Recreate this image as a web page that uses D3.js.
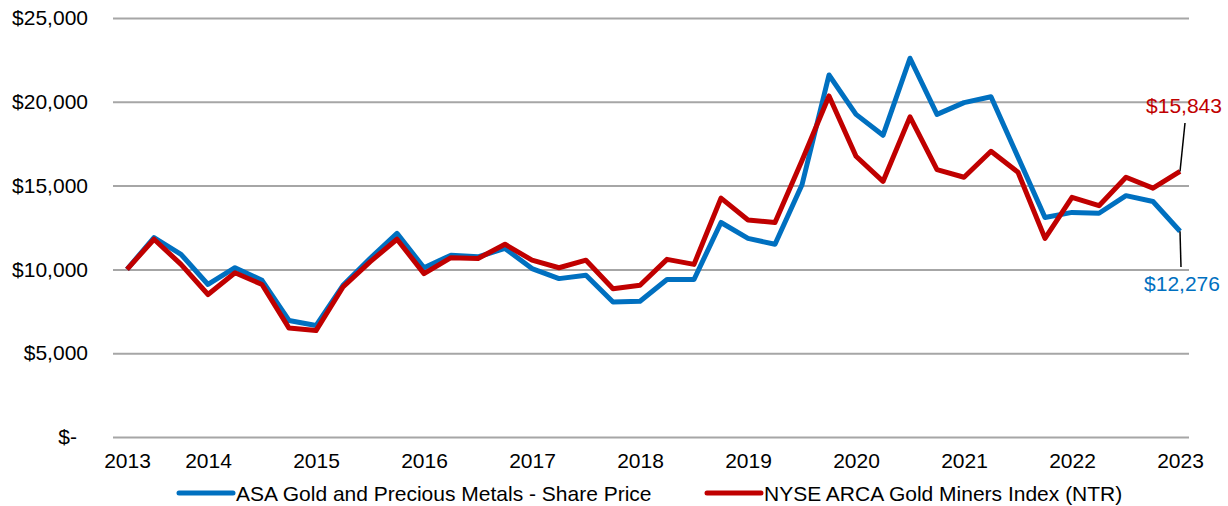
<!DOCTYPE html>
<html>
<head>
<meta charset="utf-8">
<script src="https://cdn.jsdelivr.net/npm/d3@7"></script>
<style>
  body { margin: 0; background: #fff; }
  svg { font-family: "Liberation Sans", Arial, sans-serif; }
</style>
</head>
<body>
<div id="chart"></div>
<script>
// Quarterly values of a $10,000 investment
const asaValues = [10000, 11900, 10900, 9100, 10100, 9350, 6950, 6650, 9050, 10650,
                   12150, 10100, 10850, 10750, 11250, 10050, 9450, 9650, 8050, 8100,
                   9400, 9400, 12800, 11850, 11500, 15050, 21600, 19250, 18000, 22600,
                   19250, 19950, 20300, 16700, 13100, 13400, 13350, 14400, 14050, 12276];
const nyseValues = [10000, 11800, 10300, 8500, 9800, 9100, 6500, 6350, 8950, 10450,
                    11800, 9750, 10700, 10650, 11500, 10550, 10100, 10550, 8850, 9050,
                    10600, 10300, 14250, 12950, 12800, 16500, 20350, 16750, 15250, 19100,
                    15950, 15500, 17050, 15800, 11850, 14300, 13800, 15500, 14850, 15843];
const yearLabels = ["2013", "2014", "2015", "2016", "2017", "2018", "2019", "2020", "2021", "2022", "2023"];
const yearTickIndex = [0, 3, 7, 11, 15, 19, 23, 27, 31, 35, 39];
const yTicks = [0, 5000, 10000, 15000, 20000, 25000];
const seriesNames = ["ASA Gold and Precious Metals - Share Price", "NYSE ARCA Gold Miners Index (NTR)"];

const width = 1228, height = 506;
const blue = "#0070C0", red = "#C00000";
const fontSize = 21;

const svg = d3.select("#chart").append("svg")
    .attr("width", width)
    .attr("height", height);

const x = d3.scaleLinear().domain([0, asaValues.length - 1]).range([127, 1180]);
const y = d3.scaleLinear().domain([0, 25000]).range([437, 18]);
const gridLeft = 113, gridRight = 1189;

// y axis with gridlines
const yAxis = svg.append("g")
    .attr("transform", `translate(${gridLeft},0)`)
    .call(d3.axisLeft(y)
        .tickValues(yTicks)
        .tickSize(-(gridRight - gridLeft))
        .tickPadding(25)
        .tickFormat(d => d === 0 ? "$-" : "$" + d3.format(",")(d)));
yAxis.select(".domain").remove();
yAxis.selectAll(".tick line").attr("stroke", "#a6a6a6").attr("stroke-width", 2);
yAxis.selectAll(".tick text")
    .attr("fill", "#000")
    .style("font-size", fontSize + "px")
    .style("font-family", "'Liberation Sans', Arial, sans-serif")
    .attr("dx", d => d === 0 ? -11 : 0);

// x axis labels
const xAxis = svg.append("g")
    .attr("transform", "translate(0,437)")
    .call(d3.axisBottom(x)
        .tickValues(yearTickIndex)
        .tickSize(0)
        .tickPadding(16)
        .tickFormat((d, i) => yearLabels[i]));
xAxis.select(".domain").remove();
xAxis.selectAll(".tick text")
    .attr("fill", "#000")
    .style("font-size", fontSize + "px")
    .style("font-family", "'Liberation Sans', Arial, sans-serif");

// lines
const line = d3.line().x((d, i) => x(i)).y(d => y(d));
svg.append("path").datum(asaValues)
    .attr("fill", "none").attr("stroke", blue).attr("stroke-width", 5)
    .attr("stroke-linejoin", "round").attr("d", line);
svg.append("path").datum(nyseValues)
    .attr("fill", "none").attr("stroke", red).attr("stroke-width", 5)
    .attr("stroke-linejoin", "round").attr("d", line);

// end labels with leader lines
const last = asaValues.length - 1;
svg.append("line")
    .attr("x1", x(last)).attr("y1", y(nyseValues[last]))
    .attr("x2", x(last) + 5).attr("y2", 123)
    .attr("stroke", "#000").attr("stroke-width", 1.5);
svg.append("text")
    .attr("x", x(last) + 4).attr("y", 113)
    .attr("text-anchor", "middle")
    .attr("fill", red)
    .style("font-size", fontSize + "px")
    .text("$" + d3.format(",")(nyseValues[last]));
svg.append("line")
    .attr("x1", x(last)).attr("y1", y(asaValues[last]))
    .attr("x2", x(last) + 1).attr("y2", 267)
    .attr("stroke", "#000").attr("stroke-width", 1.5);
svg.append("text")
    .attr("x", x(last) + 2).attr("y", 291)
    .attr("text-anchor", "middle")
    .attr("fill", blue)
    .style("font-size", fontSize + "px")
    .text("$" + d3.format(",")(asaValues[last]));

// legend
const legendItems = [
    {name: seriesNames[0], color: blue, x: 179},
    {name: seriesNames[1], color: red, x: 707}
];
const legend = svg.append("g");
legendItems.forEach(item => {
    legend.append("line")
        .attr("x1", item.x).attr("x2", item.x + 54)
        .attr("y1", 493).attr("y2", 493)
        .attr("stroke", item.color).attr("stroke-width", 5)
        .attr("stroke-linecap", "round");
    legend.append("text")
        .attr("x", item.x + 57).attr("y", 500.5)
        .attr("fill", "#000")
        .style("font-size", fontSize + "px")
        .text(item.name);
});
</script>
</body>
</html>
